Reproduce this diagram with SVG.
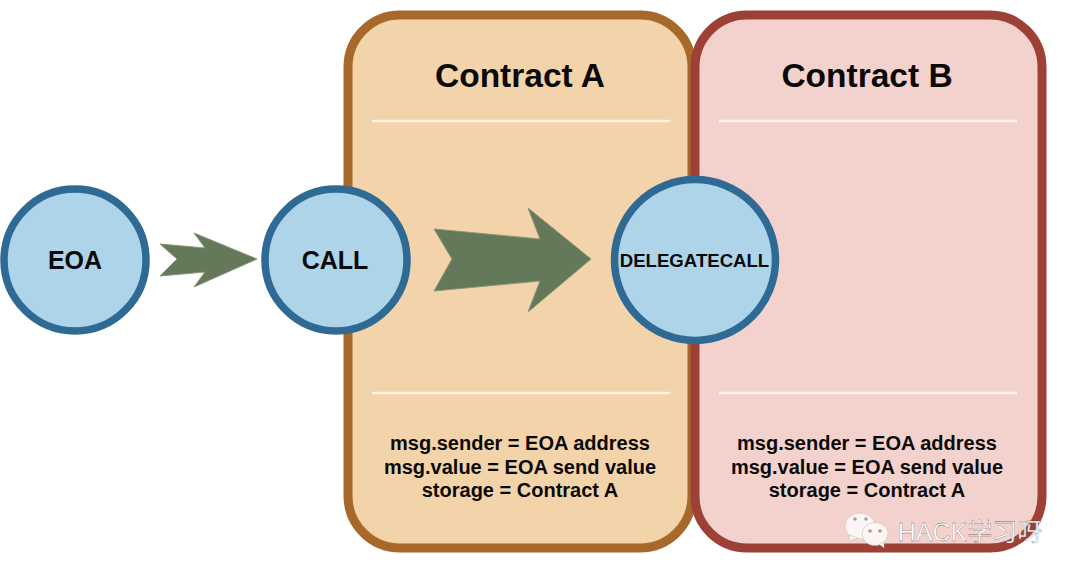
<svg xmlns="http://www.w3.org/2000/svg" width="1080" height="580" viewBox="0 0 1080 580">
<style>
text{font-family:"Liberation Sans",Arial,"Noto Sans CJK SC",sans-serif;fill:#0a0a0a;text-anchor:middle;font-weight:bold}
.title{font-size:33.5px}
.info{font-size:20px}
.node{font-size:25px}
.circle{fill:#aed4ea;stroke:#2f6a94;stroke-width:7.5}
.rule{stroke:#fbf3ea;stroke-width:2.5}
.arrow{fill:#64785a;stroke:#8a9474;stroke-width:1}
</style>
<rect width="1080" height="580" fill="#fff"/>
<g id="contract-a">
<rect x="348" y="15" width="344" height="533" rx="52" fill="#f3d3a9" stroke="#a8682a" stroke-width="9"/>
<text class="title" x="520" y="87">Contract A</text>
<line class="rule" x1="372" y1="121" x2="670" y2="121"/>
<line class="rule" x1="372" y1="393" x2="670" y2="393"/>
<text class="info" x="520" y="450">msg.sender = EOA address</text>
<text class="info" x="520" y="474">msg.value = EOA send value</text>
<text class="info" x="520" y="497">storage = Contract A</text>
</g>
<g id="contract-b">
<rect x="695" y="15" width="347" height="533" rx="52" fill="#f3d2cd" stroke="#9d4035" stroke-width="9"/>
<text class="title" x="867" y="87">Contract B</text>
<line class="rule" x1="719" y1="121" x2="1017" y2="121"/>
<line class="rule" x1="719" y1="393" x2="1017" y2="393"/>
<text class="info" x="867" y="450">msg.sender = EOA address</text>
<text class="info" x="867" y="474">msg.value = EOA send value</text>
<text class="info" x="867" y="497">storage = Contract A</text>
</g>
<g id="connectors">
<polygon class="arrow" points="160,244 205,248 194,233 257,259 194,287 205,272 160,276 177,259"/>
<polygon class="arrow" points="434,229 540,239 528,208 591,259 528,312 540,281 434,291 452,259"/>
</g>
<g id="eoa">
<circle class="circle" cx="75" cy="260" r="71"/>
<text class="node" x="75" y="268.500">EOA</text>
</g>
<g id="call">
<circle class="circle" cx="336" cy="260" r="71"/>
<text class="node" x="335" y="268.500">CALL</text>
</g>
<g id="delegatecall">
<circle class="circle" cx="695" cy="260" r="80.5"/>
<text x="694.500" y="267" style="font-size:18.600px">DELEGATECALL</text>
</g>
<g id="watermark">
<g fill="#fbf5f3" stroke="#b9a9a6" stroke-width="0.4">
<ellipse cx="860" cy="526" rx="15" ry="13"/>
<path d="M850 535 L849 541 L858 538Z"/>
<ellipse cx="875" cy="534" rx="13" ry="11.5"/>
<path d="M879 544 L884 548 L884 542Z"/>
</g>
<g fill="#a89a98">
<circle cx="855" cy="519" r="1.8"/><circle cx="866" cy="519" r="1.8"/>
<circle cx="870" cy="531" r="1.8"/><circle cx="880" cy="531" r="1.8"/>
</g>
<text x="970" y="541" style="font-size:25px;font-weight:normal;fill:#fff;stroke:#6a5a58;stroke-width:0.3">HACK学习呀</text>
</g>
</svg>
